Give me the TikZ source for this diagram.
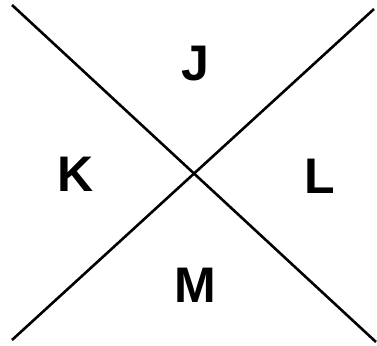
\documentclass[tikz,border=0pt]{standalone}
\usepackage{fontspec}
\setmainfont{Liberation Sans}
\begin{document}
\begin{tikzpicture}[x=1pt,y=-1pt,
  ln/.style={line width=2.6pt},
  lbl/.style={font=\fontsize{50}{50}\bfseries\selectfont,inner sep=0pt,anchor=base}]
\useasboundingbox (0,0) rectangle (377,345);
\coordinate (tl) at (12,5);
\coordinate (br) at (376,342);
\coordinate (tr) at (374,9);
\coordinate (bl) at (12,340);
\draw[ln] (tl) -- (br);
\draw[ln] (tr) -- (bl);
\node[lbl] (J) at (195,81) {J};
\node[lbl] (K) at (75.5,191.5) {K};
\node[lbl] (L) at (320,193) {L};
\node[lbl] (M) at (195.5,302) {M};
\end{tikzpicture}
\end{document}
